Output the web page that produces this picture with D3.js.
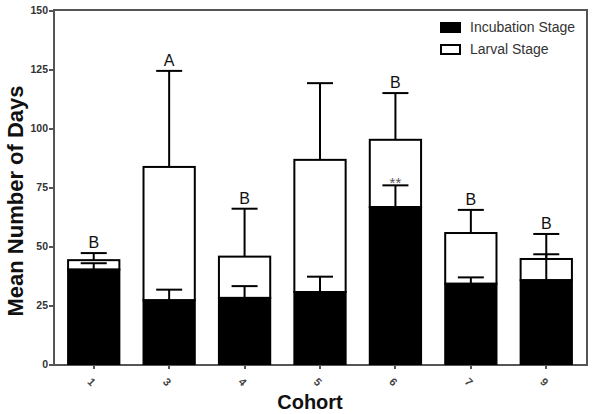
<!doctype html>
<html>
<head>
<style>
  body { margin: 0; background: #fff; }
  text { font-family: Arial, "Liberation Sans", sans-serif; }
  .axis path, .axis line { stroke: #555; stroke-width: 2; shape-rendering: crispEdges; }
</style>
<script src="https://d3js.org/d3.v7.min.js"></script>
</head>
<body>
<svg width="600" height="414"></svg>
<script>
// cohorts and stage means (days)
var cohorts = ["1", "3", "4", "5", "6", "7", "9"];
var incubation = [40, 27, 28, 30.5, 66.5, 34, 35.5];
var incubationErr = [2.7, 4.5, 5, 6.5, 9.2, 2.7, 11];
var larval = [4, 56.5, 17.5, 56, 28.5, 21.5, 9];
var totalErr = [3, 40.7, 20.3, 32.5, 19.8, 9.8, 10.6];
var letters = ["B", "A", "B", "", "B", "B", "B"];
var stars = ["", "", "", "", "**", "", ""];
var yTicks = [0, 25, 50, 75, 100, 125, 150];

var svg = d3.select("svg");
var plotLeft = 53, plotRight = 587, plotTop = 10, plotBottom = 364;

var x = d3.scaleBand().domain(cohorts).range([plotLeft, plotRight]).paddingInner(0.32).paddingOuter(0.2);
var y = d3.scaleLinear().domain([0, 150]).range([plotBottom, plotTop]);

var data = cohorts.map(function(c, i) {
    return {
        c: c,
        inc: incubation[i],
        incErr: incubationErr[i],
        total: incubation[i] + larval[i],
        totErr: totalErr[i],
        letter: letters[i],
        star: stars[i]
    };
});

// frame (top and right sides)
svg.append("path")
   .attr("d", "M" + plotLeft + "," + plotTop + "H" + plotRight + "V" + plotBottom)
   .attr("fill", "none")
   .attr("stroke", "#555")
   .attr("stroke-width", 2);

// y axis
var yAxis = svg.append("g")
   .attr("class", "axis")
   .attr("transform", "translate(" + plotLeft + ",0)")
   .call(d3.axisLeft(y).tickValues(yTicks).tickSize(4).tickPadding(1));
yAxis.selectAll("text")
   .attr("font-size", "10.5px")
   .attr("font-weight", "bold")
   .attr("fill", "#333");

// x axis
var xAxis = svg.append("g")
   .attr("class", "axis")
   .attr("transform", "translate(0," + plotBottom + ")")
   .call(d3.axisBottom(x).tickSize(5).tickSizeOuter(0));
xAxis.selectAll("text").remove();
xAxis.selectAll(".tick").append("text")
   .attr("transform", "translate(-2,18) rotate(45)")
   .attr("text-anchor", "middle")
   .attr("dy", "0.35em")
   .attr("font-size", "11px")
   .attr("font-weight", "bold")
   .attr("fill", "#444")
   .text(function(d) { return d; });

var bw = x.bandwidth();
var capW = 26;

var bars = svg.append("g");

// larval stage (white) from incubation top to total
bars.selectAll(".larval")
   .data(data)
   .enter().append("rect")
   .attr("x", function(d) { return x(d.c); })
   .attr("y", function(d) { return y(d.total); })
   .attr("width", bw)
   .attr("height", function(d) { return y(d.inc) - y(d.total); })
   .attr("fill", "#fff")
   .attr("stroke", "#000")
   .attr("stroke-width", 2);

// incubation stage (black)
bars.selectAll(".inc")
   .data(data)
   .enter().append("rect")
   .attr("x", function(d) { return x(d.c); })
   .attr("y", function(d) { return y(d.inc); })
   .attr("width", bw)
   .attr("height", function(d) { return plotBottom - y(d.inc); })
   .attr("fill", "#000")
   .attr("stroke", "#000")
   .attr("stroke-width", 2);

// error bars, upward only
function errBars(base, err) {
    var g = svg.append("g").attr("stroke", "#000").attr("stroke-width", 2);
    g.selectAll("line.v")
     .data(data)
     .enter().append("line")
     .attr("x1", function(d) { return x(d.c) + bw / 2; })
     .attr("x2", function(d) { return x(d.c) + bw / 2; })
     .attr("y1", function(d) { return y(base(d)); })
     .attr("y2", function(d) { return y(base(d) + err(d)); });
    g.selectAll("line.cap")
     .data(data)
     .enter().append("line")
     .attr("x1", function(d) { return x(d.c) + bw / 2 - capW / 2; })
     .attr("x2", function(d) { return x(d.c) + bw / 2 + capW / 2; })
     .attr("y1", function(d) { return y(base(d) + err(d)); })
     .attr("y2", function(d) { return y(base(d) + err(d)); });
}
errBars(function(d) { return d.inc; }, function(d) { return d.incErr; });
errBars(function(d) { return d.total; }, function(d) { return d.totErr; });

// significance letters
svg.selectAll(".letter")
   .data(data)
   .enter().append("text")
   .attr("x", function(d) { return x(d.c) + bw / 2; })
   .attr("y", function(d) { return y(d.total + d.totErr) - 5; })
   .attr("text-anchor", "middle")
   .attr("font-size", "16px")
   .attr("fill", "#111")
   .text(function(d) { return d.letter; });

svg.selectAll(".star")
   .data(data)
   .enter().append("text")
   .attr("x", function(d) { return x(d.c) + bw / 2; })
   .attr("y", function(d) { return y(d.inc + d.incErr) + 3; })
   .attr("text-anchor", "middle")
   .attr("font-size", "15px")
   .attr("fill", "#555")
   .text(function(d) { return d.star; });

// legend
var legend = svg.append("g").attr("transform", "translate(440,22)");
var legendItems = [["Incubation Stage", "#000"], ["Larval Stage", "#fff"]];
legendItems.forEach(function(it, i) {
    legend.append("rect")
       .attr("x", 1).attr("y", i * 22 + 1)
       .attr("width", 19).attr("height", 9)
       .attr("fill", it[1])
       .attr("stroke", "#000")
       .attr("stroke-width", 2);
    legend.append("text")
       .attr("x", 30).attr("y", i * 22 + 10)
       .attr("font-size", "14px")
       .attr("fill", "#333")
       .text(it[0]);
});

// axis titles
svg.append("text")
   .attr("transform", "translate(23,201) rotate(-90)")
   .attr("text-anchor", "middle")
   .attr("font-size", "22px")
   .attr("font-weight", "bold")
   .attr("fill", "#111")
   .text("Mean Number of Days");

svg.append("text")
   .attr("x", 310).attr("y", 409)
   .attr("text-anchor", "middle")
   .attr("font-size", "20px")
   .attr("font-weight", "bold")
   .attr("fill", "#111")
   .text("Cohort");
</script>
</body>
</html>
